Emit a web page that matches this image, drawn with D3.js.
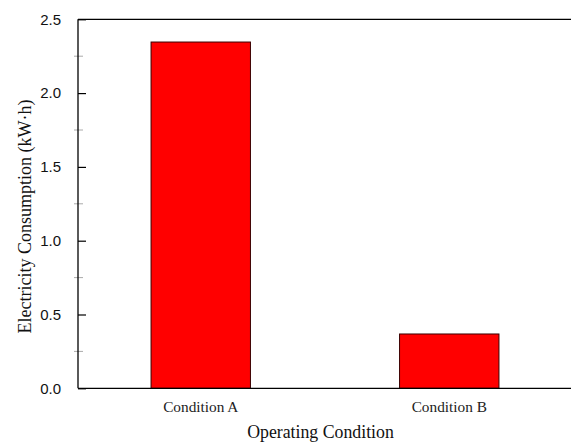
<!DOCTYPE html>
<html>
<head>
<meta charset="utf-8">
<script src="https://cdn.jsdelivr.net/npm/d3@7"></script>
<style>
  html, body { margin: 0; padding: 0; background: #fff; }
  svg { display: block; }
</style>
</head>
<body>
<svg id="chart" width="571" height="442"></svg>
<script>
const categories = ["Condition A", "Condition B"];
const values = [2.346, 0.368];
const yTicks = [0.0, 0.5, 1.0, 1.5, 2.0, 2.5];
const yMinorTicks = [0.25, 0.75, 1.25, 1.75, 2.25];
const xTitle = "Operating Condition";
const yTitle = "Electricity Consumption (kW\u00B7h)";

const svg = d3.select("#chart");
const mLeft = 78, mTop = 19.3, mBottom = 388.3;

const x = d3.scaleBand().domain(categories).range([76.5, 573.5]).paddingInner(0.6).paddingOuter(0.3);
const y = d3.scaleLinear().domain([0, 2.5]).range([mBottom, mTop]);

// bars
svg.append("g").selectAll("rect").data(values).join("rect")
  .attr("x", (d, i) => x(categories[i]))
  .attr("y", d => y(d))
  .attr("width", x.bandwidth())
  .attr("height", d => y(0) - y(d))
  .attr("fill", "#ff0000")
  .attr("stroke", "#3a0000")
  .attr("stroke-width", 1);

// minor ticks
svg.append("g").selectAll("line").data(yMinorTicks).join("line")
  .attr("x1", mLeft - 4).attr("x2", mLeft + 5)
  .attr("y1", d => y(d)).attr("y2", d => y(d))
  .attr("stroke", "#aaa").attr("stroke-width", 1);

// y axis
const yAxis = d3.axisLeft(y).tickValues(yTicks).tickFormat(d3.format(".1f")).tickSize(-8).tickPadding(17);
const gy = svg.append("g").attr("transform", `translate(${mLeft},0)`).call(yAxis);
gy.select(".domain").remove();
gy.selectAll(".tick line").attr("stroke", "#000").attr("stroke-width", 1.2);
gy.selectAll(".tick text")
  .attr("font-family", "'Liberation Sans', Arial, sans-serif")
  .attr("font-size", "15px").attr("fill", "#111");

// axis lines
svg.append("line").attr("x1", mLeft).attr("x2", mLeft).attr("y1", mTop).attr("y2", mBottom)
  .attr("stroke", "#000").attr("stroke-width", 1.3);
svg.append("line").attr("x1", mLeft).attr("x2", 571).attr("y1", mTop).attr("y2", mTop)
  .attr("stroke", "#000").attr("stroke-width", 1.3);
svg.append("line").attr("x1", mLeft).attr("x2", 571).attr("y1", mBottom).attr("y2", mBottom)
  .attr("stroke", "#000").attr("stroke-width", 1.3);

// x axis labels
const xAxis = d3.axisBottom(x).tickSize(0).tickPadding(13);
const gx = svg.append("g").attr("transform", `translate(0,${mBottom})`).call(xAxis);
gx.select(".domain").remove();
gx.selectAll(".tick text")
  .attr("font-family", "'Liberation Serif', 'Times New Roman', serif")
  .attr("font-size", "15.3px").attr("fill", "#222");

// titles
svg.append("text")
  .attr("x", 320.5).attr("y", 438)
  .attr("text-anchor", "middle")
  .attr("font-family", "'Liberation Serif', 'Times New Roman', serif")
  .attr("font-size", "17.8px").attr("fill", "#111")
  .text(xTitle);

svg.append("text")
  .attr("transform", "translate(30.5,216.5) rotate(-90)")
  .attr("text-anchor", "middle")
  .attr("font-family", "'Liberation Serif', 'Times New Roman', serif")
  .attr("font-size", "18px").attr("fill", "#111")
  .text(yTitle);
</script>
</body>
</html>
